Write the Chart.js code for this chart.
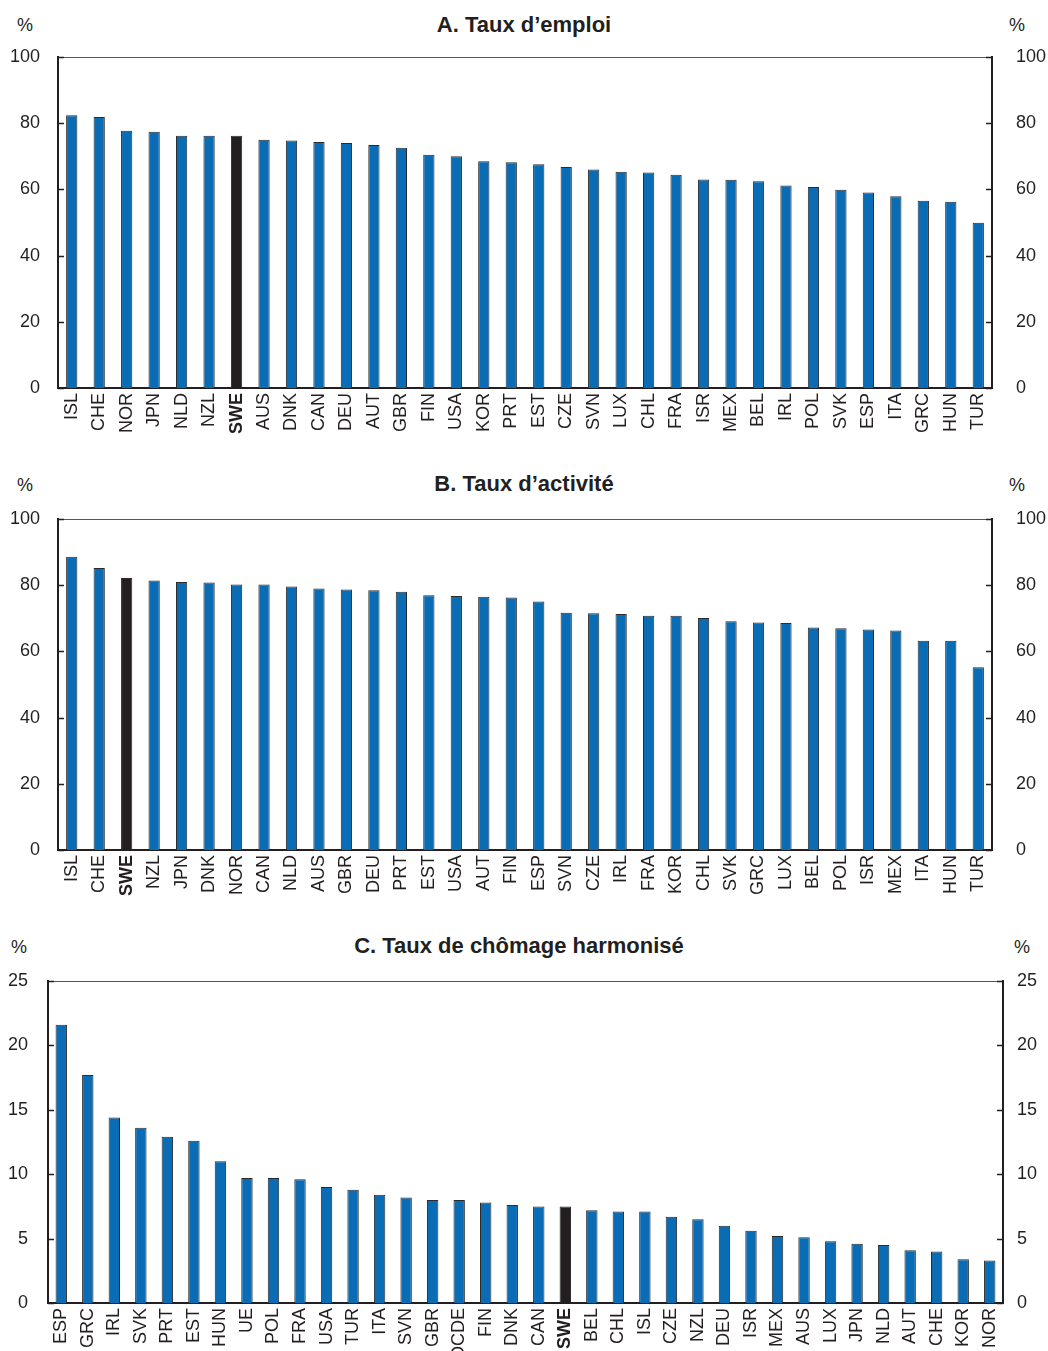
<!DOCTYPE html>
<html lang="fr">
<head>
<meta charset="utf-8">
<script src="https://cdn.jsdelivr.net/npm/chart.js@4.4.1/dist/chart.umd.min.js"></script>
<style>
  body { margin: 0; background: #fff; width: 1048px; height: 1351px; position: relative; overflow: hidden;
         font-family: 'Liberation Sans Narrow', 'Arial Narrow', 'Liberation Sans', sans-serif; color: #231f20; }
  .panel { position: absolute; left: 0; }
  .title { position: absolute; left: 0; width: 1048px; text-align: center; font-weight: bold; font-size: 22px; line-height: 24px; }
  .pct { position: absolute; font-size: 18px; line-height: 20px; }
</style>
</head>
<body>
<div class="title" style="top:13px">A. Taux d’emploi</div>
<div class="pct" style="left:17px;top:15px">%</div>
<div class="pct" style="left:1009px;top:15px">%</div>
<canvas id="chartA" class="panel" style="top:0" width="1048" height="440"></canvas>

<div class="title" style="top:472px">B. Taux d’activité</div>
<div class="pct" style="left:17px;top:475px">%</div>
<div class="pct" style="left:1009px;top:475px">%</div>
<canvas id="chartB" class="panel" style="top:460px" width="1048" height="440"></canvas>

<div class="title" style="top:934px;margin-left:-5px">C. Taux de chômage harmonisé</div>
<div class="pct" style="left:11px;top:937px">%</div>
<div class="pct" style="left:1014px;top:937px">%</div>
<canvas id="chartC" class="panel" style="top:920px" width="1048" height="431"></canvas>

<script>
// A. Taux d'emploi
const countriesA = ['ISL', 'CHE', 'NOR', 'JPN', 'NLD', 'NZL', 'SWE', 'AUS', 'DNK', 'CAN', 'DEU', 'AUT', 'GBR', 'FIN', 'USA', 'KOR', 'PRT',
  'EST', 'CZE', 'SVN', 'LUX', 'CHL', 'FRA', 'ISR', 'MEX', 'BEL', 'IRL', 'POL', 'SVK', 'ESP', 'ITA', 'GRC', 'HUN', 'TUR'];
const employment = [82.4, 81.9, 77.7, 77.4, 76.2, 76.2, 76.2, 75.0, 74.8, 74.3, 74.0, 73.4, 72.6, 70.5, 70.0, 68.5, 68.2,
  67.6, 66.8, 66.0, 65.3, 65.1, 64.4, 63.0, 62.9, 62.5, 61.2, 60.7, 59.9, 59.1, 57.9, 56.6, 56.3, 49.9];

// B. Taux d'activité
const countriesB = ['ISL', 'CHE', 'SWE', 'NZL', 'JPN', 'DNK', 'NOR', 'CAN', 'NLD', 'AUS', 'GBR', 'DEU', 'PRT', 'EST', 'USA', 'AUT', 'FIN',
  'ESP', 'SVN', 'CZE', 'IRL', 'FRA', 'KOR', 'CHL', 'SVK', 'GRC', 'LUX', 'BEL', 'POL', 'ISR', 'MEX', 'ITA', 'HUN', 'TUR'];
const activity = [88.6, 85.2, 82.2, 81.4, 81.0, 80.8, 80.2, 80.2, 79.6, 79.0, 78.7, 78.5, 78.0, 77.0, 76.7, 76.5, 76.3,
  75.1, 71.7, 71.5, 71.3, 70.8, 70.8, 70.1, 69.1, 68.7, 68.6, 67.2, 67.0, 66.6, 66.3, 63.2, 63.2, 55.2];

// C. Taux de chômage harmonisé
const countriesC = ['ESP', 'GRC', 'IRL', 'SVK', 'PRT', 'EST', 'HUN', 'UE', 'POL', 'FRA', 'USA', 'TUR', 'ITA', 'SVN', 'GBR', 'OCDE', 'FIN', 'DNK',
  'CAN', 'SWE', 'BEL', 'CHL', 'ISL', 'CZE', 'NZL', 'DEU', 'ISR', 'MEX', 'AUS', 'LUX', 'JPN', 'NLD', 'AUT', 'CHE', 'KOR', 'NOR'];
const unemployment = [21.6, 17.7, 14.4, 13.6, 12.9, 12.6, 11.0, 9.7, 9.7, 9.6, 9.0, 8.8, 8.4, 8.2, 8.0, 8.0, 7.8, 7.6,
  7.5, 7.5, 7.2, 7.1, 7.1, 6.7, 6.5, 6.0, 5.6, 5.2, 5.1, 4.8, 4.6, 4.5, 4.1, 4.0, 3.4, 3.3];

const ticksRate = [0, 20, 40, 60, 80, 100];
const ticksUnemp = [0, 5, 10, 15, 20, 25];

const BLUE = '#0a6cb4';
const DARK = '#231f20';
const FONT = "'Liberation Sans Narrow', 'Arial Narrow', 'Liberation Sans', sans-serif";
const FONT_SIZE = 18;

// top border + inward tick marks on both value axes
const framePlugin = {
  id: 'frame',
  afterDraw(chart) {
    const { ctx, chartArea: a } = chart;
    ctx.save();
    ctx.strokeStyle = '#555';
    ctx.lineWidth = 1.2;
    ctx.beginPath();
    ctx.moveTo(a.left, a.top + 0.5);
    ctx.lineTo(a.right, a.top + 0.5);
    ctx.stroke();
    ctx.strokeStyle = DARK;
    ctx.lineWidth = 1.5;
    const y = chart.scales.y;
    y.ticks.forEach(t => {
      const py = Math.round(y.getPixelForValue(t.value)) + 0.5;
      ctx.beginPath();
      ctx.moveTo(a.left, py); ctx.lineTo(a.left + 6, py);
      ctx.moveTo(a.right - 6, py); ctx.lineTo(a.right, py);
      ctx.stroke();
    });
    ctx.restore();
  },
};

function makePanel(id, labels, values, yTicks, g) {
  const yMin = yTicks[0];
  const yMax = yTicks[yTicks.length - 1];
  const step = yTicks[1] - yTicks[0];
  const yAxis = (pos, width, pad) => ({
    position: pos,
    min: yMin,
    max: yMax,
    afterFit(scale) { scale.width = width; },
    grid: { display: false, drawTicks: false },
    border: { display: true, color: DARK, width: 2 },
    ticks: { stepSize: step, padding: pad, color: DARK, font: { family: FONT, size: FONT_SIZE } },
  });
  new Chart(document.getElementById(id), {
    type: 'bar',
    data: {
      labels,
      datasets: [{
        data: values,
        yAxisID: 'y',
        backgroundColor: labels.map(l => (l === 'SWE' ? DARK : BLUE)),
        borderColor: '#2b2b2b',
        borderWidth: 1,
        barPercentage: g.bar,
        categoryPercentage: 1,
      }],
    },
    options: {
      responsive: false,
      animation: false,
      layout: { padding: { top: g.top, left: 0, right: 0, bottom: 0 } },
      plugins: { legend: { display: false }, tooltip: { enabled: false }, title: { display: false } },
      scales: {
        x: {
          afterFit(scale) { scale.height = g.xh; },
          grid: { display: false, drawTicks: false },
          border: { display: true, color: DARK, width: 2 },
          ticks: {
            autoSkip: false,
            minRotation: 90,
            maxRotation: 90,
            padding: 5,
            color: DARK,
            font: ctx => ({ family: FONT, size: FONT_SIZE, weight: ctx.tick && ctx.tick.label === 'SWE' ? 'bold' : 'normal' }),
          },
        },
        y: yAxis('left', g.left, g.padL),
        y2: yAxis('right', g.right, g.padR),
      },
    },
    plugins: [framePlugin],
  });
}

makePanel('chartA', countriesA, employment, ticksRate, { top: 57, xh: 52, left: 58, right: 56, padL: 18, padR: 24, bar: 0.41 });
makePanel('chartB', countriesB, activity, ticksRate, { top: 59, xh: 50, left: 58, right: 56, padL: 18, padR: 24, bar: 0.41 });
makePanel('chartC', countriesC, unemployment, ticksUnemp, { top: 61, xh: 48, left: 48, right: 45, padL: 20, padR: 14, bar: 0.43 });
</script>
</body>
</html>
